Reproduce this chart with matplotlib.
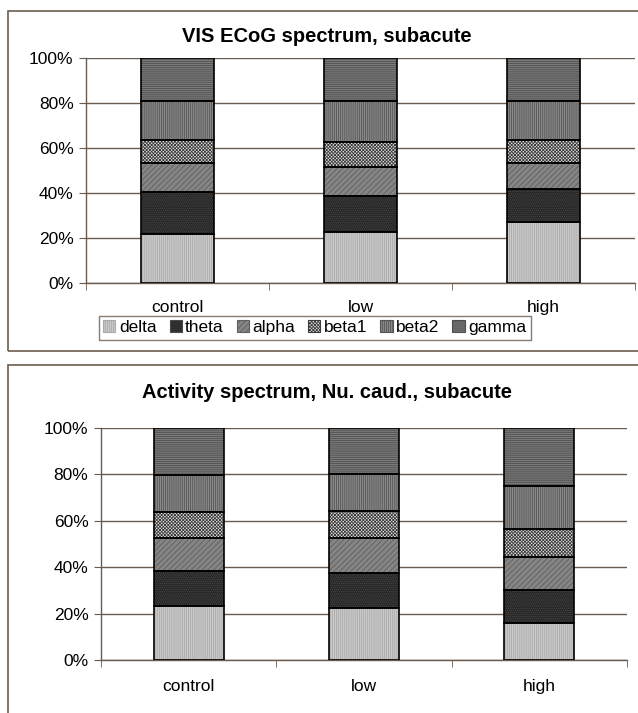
import numpy as np
import matplotlib
matplotlib.use("Agg")
import matplotlib.pyplot as plt
from matplotlib.patches import Patch, Rectangle

plt.rcParams['font.family'] = ['Liberation Sans', 'DejaVu Sans']
plt.rcParams['hatch.linewidth'] = 0.6

groups = ['control', 'low', 'high']
bands = ['delta', 'theta', 'alpha', 'beta1', 'beta2', 'gamma']

# share of each band (%), per group: control, low, high
vis_delta = [22.0, 22.6, 27.0]
vis_theta = [18.4, 16.2, 14.9]
vis_alpha = [13.1, 12.8, 11.6]
vis_beta1 = [10.1, 11.0, 10.1]
vis_beta2 = [17.1, 18.5, 17.5]
vis_gamma = [19.3, 18.9, 18.9]

caud_delta = [23.1, 22.4, 15.9]
caud_theta = [15.3, 15.3, 14.1]
caud_alpha = [14.1, 14.8, 14.4]
caud_beta1 = [11.3, 11.7, 11.9]
caud_beta2 = [15.9, 15.9, 18.6]
caud_gamma = [20.3, 19.9, 25.1]

vis_title = "VIS ECoG spectrum, subacute"
caud_title = "Activity spectrum, Nu. caud., subacute"

# face colour, hatch colour, hatch pattern per band
styles = {
    'delta': ('#cbcbcb', '#a9a9a9', '||||||||'),
    'theta': ('#262626', '#4a4a4a', '........'),
    'alpha': ('#858585', '#5f5f5f', '//////'),
    'beta1': ('#e0e0e0', '#3c3c3c', 'xxxxxxxxxx'),
    'beta2': ('#8a8a8a', '#555555', '||||||||'),
    'gamma': ('#7a7a7a', '#4e4e4e', '--------'),
}

FRAME = '#6b5b4e'
FS = 12.5
W, H = 638, 713


def stacked(ax, series, label_pad):
    x = np.arange(len(groups))
    bottom = np.zeros(len(groups))
    for name, vals in zip(bands, series):
        fc, hc, hatch = styles[name]
        vals = np.asarray(vals)
        ax.bar(x, vals, 0.4, bottom=bottom, color=fc, edgecolor=hc,
               hatch=hatch, linewidth=0, zorder=2)
        ax.bar(x, vals, 0.4, bottom=bottom, fill=False, edgecolor='black',
               linewidth=1.2, zorder=3)
        bottom += vals
    ax.set_xlim(-0.5, len(groups) - 0.5)
    ax.set_ylim(0, 100)
    ax.set_yticks(np.arange(0, 101, 20))
    ax.set_yticklabels([f"{v}%" for v in range(0, 101, 20)], fontsize=FS)
    ax.set_xticks(x)
    ax.set_xticklabels(groups, fontsize=FS)
    ax.set_xticks(np.arange(-0.5, len(groups)), minor=True)
    ax.tick_params(axis='x', which='major', length=0, pad=label_pad)
    ax.tick_params(axis='x', which='minor', length=5, color=FRAME)
    ax.tick_params(axis='y', length=5, color=FRAME, pad=4)
    for s in ['top', 'right']:
        ax.spines[s].set_visible(False)
    for s in ['left', 'bottom']:
        ax.spines[s].set_color(FRAME)
        ax.spines[s].set_linewidth(1.0)
    ax.yaxis.grid(True, color=FRAME, linewidth=1.0, zorder=0)
    ax.set_axisbelow(True)


fig = plt.figure(figsize=(W / 100, H / 100), dpi=100)

# outer chart frames (pixel coords converted to figure fractions)
fig.patches.append(Rectangle((8 / W, 1 - 351 / H), 640 / W, 340 / H,
                             transform=fig.transFigure, fill=False,
                             edgecolor=FRAME, linewidth=1.2))
fig.patches.append(Rectangle((8 / W, -0.05), 640 / W, 1 - 365 / H + 0.05,
                             transform=fig.transFigure, fill=False,
                             edgecolor=FRAME, linewidth=1.2))

ax1 = fig.add_axes([86 / W, 1 - 283 / H, (635 - 86) / W, (283 - 58) / H])
stacked(ax1, [vis_delta, vis_theta, vis_alpha, vis_beta1, vis_beta2, vis_gamma], 12)

ax2 = fig.add_axes([101 / W, 1 - 660 / H, (627 - 101) / W, (660 - 428) / H])
stacked(ax2, [caud_delta, caud_theta, caud_alpha, caud_beta1, caud_beta2, caud_gamma], 14)

# titles are centred on the chart frames, not on the plot areas
fig.text(327 / W, 1 - 36 / H, vis_title, fontsize=14.5, fontweight='bold',
         ha='center', va='center')
fig.text(327 / W, 1 - 392 / H, caud_title, fontsize=14.5, fontweight='bold',
         ha='center', va='center')

handles = [Patch(facecolor=styles[b][0], edgecolor=styles[b][1], hatch=styles[b][2],
                 linewidth=0.8) for b in bands]
leg = fig.legend(handles, bands, loc='upper left',
                 bbox_to_anchor=(99 / W, 1 - 316 / H), ncol=6, fontsize=FS,
                 frameon=True, fancybox=False, handlelength=0.7, handleheight=0.7,
                 handletextpad=0.2, columnspacing=0.75, borderpad=0.25,
                 borderaxespad=0)
leg.get_frame().set_edgecolor(FRAME)
leg.get_frame().set_linewidth(1.0)

fig.savefig("out.png", dpi=100)
